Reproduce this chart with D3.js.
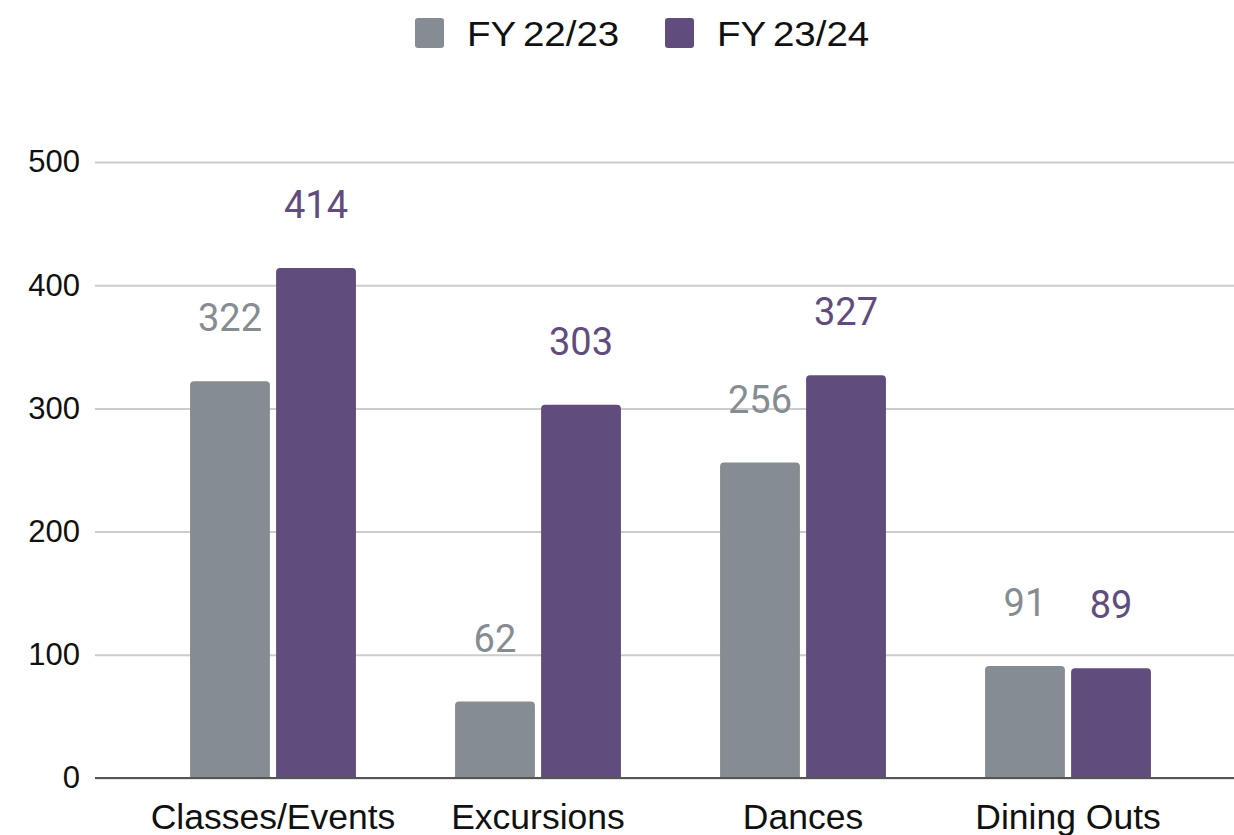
<!DOCTYPE html>
<html>
<head>
<meta charset="utf-8">
<script src="https://cdn.jsdelivr.net/npm/d3@7"></script>
<style>
    body { margin: 0; background: #fff; }
    svg { display: block; }
</style>
</head>
<body>
<div id="chart"></div>
<script>
// data
const categories = ['Classes/Events', 'Excursions', 'Dances', 'Dining Outs'];
const seriesNames = ['FY 22/23', 'FY 23/24'];
const fy2223 = [322, 62, 256, 91];
const fy2324 = [414, 303, 327, 89];
const yTicks = [0, 100, 200, 300, 400, 500];

const colors = ['#858c92', '#614c7e'];
const seriesValues = [fy2223, fy2324];

const width = 1234, height = 835;

let svg = d3.select('#chart').append('svg')
    .attr('width', width)
    .attr('height', height);

// scales
let x0 = d3.scaleBand()
    .domain(categories)
    .range([140.5, 1200.5])
    .paddingInner(0.374)
    .paddingOuter(0.187);

let x1 = d3.scaleBand()
    .domain(seriesNames)
    .range([0, x0.bandwidth()])
    .paddingInner(0.072);

let y = d3.scaleLinear()
    .domain([0, 500])
    .range([778, 162]);

// gridlines + tick labels
let yAxis = d3.axisLeft(y)
    .tickValues(yTicks)
    .tickSize(-(1234 - 95))
    .tickPadding(15);

let yAxisGroup = svg.append('g')
    .attr('class', 'axis y-axis')
    .attr('transform', 'translate(95,0)')
    .call(yAxis);

yAxisGroup.select('.domain').remove();
yAxisGroup.selectAll('.tick line')
    .attr('stroke', '#cccccc')
    .attr('stroke-width', 2)
    .attr('x1', 0)
    .attr('x2', 1234 - 95);
yAxisGroup.selectAll('.tick text')
    .attr('font-family', 'Liberation Sans, Arial, sans-serif')
    .attr('font-size', 31)
    .attr('fill', '#111');

// bars (rounded top corners)
function barPath(x, yTop, w, yBase, r) {
    r = Math.min(r, (yBase - yTop));
    return `M${x},${yBase} V${yTop + r} Q${x},${yTop} ${x + r},${yTop} H${x + w - r} Q${x + w},${yTop} ${x + w},${yTop + r} V${yBase} Z`;
}

let rows = [];
categories.forEach((c, i) => {
    seriesNames.forEach((s, j) => {
        rows.push({cat: c, series: s, value: seriesValues[j][i], color: colors[j]});
    });
});

svg.append('g').selectAll('path')
    .data(rows)
    .enter().append('path')
    .attr('d', d => barPath(x0(d.cat) + x1(d.series), y(d.value), x1.bandwidth(), y(0), 4))
    .attr('fill', d => d.color);

// value labels
svg.append('g').selectAll('text')
    .data(rows)
    .enter().append('text')
    .attr('x', d => x0(d.cat) + x1(d.series) + x1.bandwidth() / 2)
    .attr('y', d => y(d.value) - 50)
    .attr('text-anchor', 'middle')
    .attr('font-family', 'Roboto, sans-serif')
    .attr('font-size', 38)
    .attr('fill', d => d.color)
    .text(d => d.value);

// baseline
svg.append('line')
    .attr('x1', 95).attr('x2', 1234)
    .attr('y1', y(0)).attr('y2', y(0))
    .attr('stroke', '#555')
    .attr('stroke-width', 2);

// x axis labels
let xAxisGroup = svg.append('g')
    .attr('class', 'axis x-axis')
    .attr('transform', `translate(0,${y(0)})`)
    .call(d3.axisBottom(x0).tickSize(0).tickPadding(0));
xAxisGroup.select('.domain').remove();
xAxisGroup.selectAll('.tick text')
    .attr('dy', null)
    .attr('y', 51)
    .attr('font-family', 'Liberation Sans, Arial, sans-serif')
    .attr('font-size', 35.5)
    .attr('fill', '#111');

// legend
let legend = svg.append('g').attr('class', 'legend');
let legendX = [415, 665];
seriesNames.forEach((s, i) => {
    let g = legend.append('g').attr('transform', `translate(${legendX[i]},18)`);
    g.append('rect')
        .attr('width', 29).attr('height', 30)
        .attr('rx', 3)
        .attr('fill', colors[i]);
    g.append('text')
        .attr('transform', 'translate(52,28) scale(1.1,1)')
        .attr('font-family', 'Liberation Sans, Arial, sans-serif')
        .attr('font-size', 35)
        .attr('word-spacing', -3)
        .attr('fill', '#111')
        .text(s);
});
</script>
</body>
</html>
